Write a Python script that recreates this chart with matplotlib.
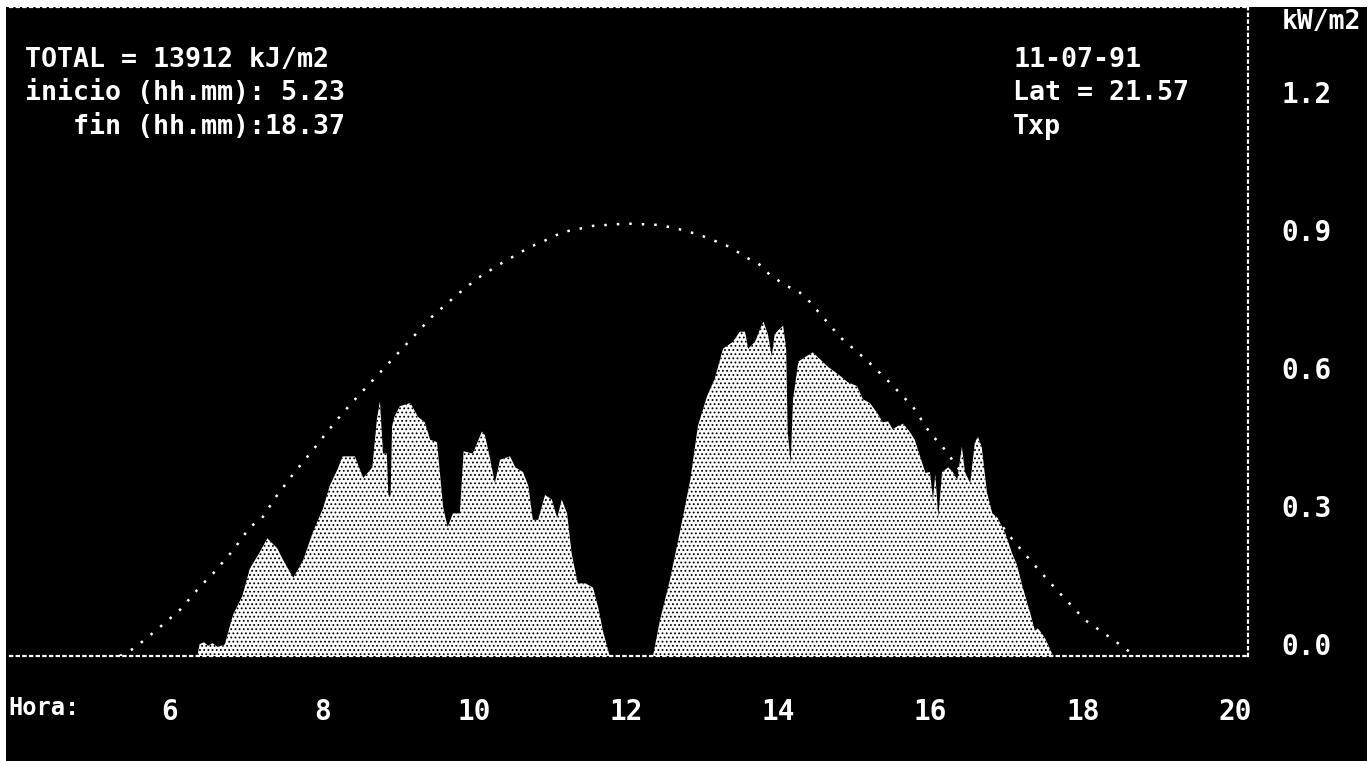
import matplotlib
matplotlib.use("Agg")
import matplotlib.pyplot as plt
from matplotlib.patches import Rectangle
from matplotlib.transforms import ScaledTranslation

# ---------------- data ----------------
hora = [
    6.36, 6.39, 6.45, 6.50, 6.56, 6.62, 6.67, 6.72, 6.83, 6.95, 7.05, 7.16, 7.28, 7.41, 7.49,
    7.62, 7.75, 7.88, 8.01, 8.10, 8.20, 8.27, 8.43, 8.54, 8.66, 8.72, 8.76, 8.80, 8.85, 8.87,
    8.90, 8.92, 8.95, 9.02, 9.16, 9.26, 9.35, 9.42, 9.51, 9.59, 9.65, 9.72, 9.81, 9.86, 9.98,
    10.10, 10.14, 10.21, 10.27, 10.34, 10.47, 10.54, 10.64, 10.71, 10.77, 10.84, 10.93, 11.02,
    11.09, 11.15, 11.22, 11.28, 11.36, 11.46, 11.56, 11.63, 11.69, 11.78,
    12.35, 12.44, 12.57, 12.70, 12.84, 12.94, 13.06, 13.16, 13.27, 13.40, 13.49, 13.56, 13.60,
    13.69, 13.76, 13.80, 13.86, 13.91, 13.95, 14.02, 14.06, 14.10, 14.12, 14.16, 14.19, 14.26,
    14.37, 14.45, 14.54, 14.64, 14.72, 14.81, 14.91, 15.03, 15.11, 15.20, 15.29, 15.37, 15.44,
    15.50, 15.57, 15.64, 15.73, 15.79, 15.86, 15.93, 15.99, 16.03, 16.06, 16.10, 16.15, 16.23,
    16.29, 16.35, 16.41, 16.45, 16.52, 16.58, 16.62, 16.67, 16.74, 16.81, 16.88, 16.98, 17.07,
    17.13, 17.21, 17.31, 17.37, 17.41, 17.50, 17.61,
]
irradiancia = [
    0.0, 0.026, 0.030, 0.022, 0.028, 0.020, 0.022, 0.025, 0.090, 0.130, 0.190, 0.220, 0.256, 0.234, 0.208,
    0.170, 0.208, 0.270, 0.320, 0.370, 0.405, 0.434, 0.434, 0.387, 0.410, 0.515, 0.554, 0.440, 0.440, 0.350,
    0.350, 0.500, 0.520, 0.543, 0.550, 0.520, 0.508, 0.470, 0.465, 0.324, 0.280, 0.310, 0.310, 0.445, 0.440,
    0.488, 0.480, 0.427, 0.376, 0.427, 0.434, 0.410, 0.400, 0.370, 0.296, 0.296, 0.350, 0.340,
    0.300, 0.340, 0.310, 0.223, 0.158, 0.158, 0.149, 0.105, 0.055, 0.0,
    0.0, 0.077, 0.164, 0.267, 0.383, 0.500, 0.565, 0.602, 0.668, 0.683, 0.705, 0.705, 0.668,
    0.683, 0.712, 0.727, 0.700, 0.652, 0.700, 0.712, 0.718, 0.668, 0.486, 0.420, 0.558, 0.640,
    0.652, 0.660, 0.646, 0.630, 0.620, 0.609, 0.595, 0.587, 0.558, 0.550, 0.530, 0.508, 0.510,
    0.493, 0.500, 0.505, 0.486, 0.470, 0.434, 0.398, 0.400, 0.340, 0.395, 0.302, 0.400, 0.410,
    0.400, 0.383, 0.455, 0.400, 0.376, 0.464, 0.477, 0.455, 0.355, 0.310, 0.300, 0.267, 0.223,
    0.200, 0.149, 0.092, 0.055, 0.060, 0.040, 0.0,
]

# clear-sky (theoretical) curve
hora_teo = [5.34, 5.53, 5.79, 6.13, 6.39, 6.57, 6.83, 7.05, 7.21, 7.41, 7.64, 7.88, 8.08, 8.27,
            8.46, 8.63, 9.44, 9.77, 10.05, 10.36, 10.73, 10.89, 11.17, 11.30, 11.56, 12.00,
            12.44, 12.74, 12.97, 13.20, 13.36, 13.59, 13.73, 13.89, 14.11, 14.26, 14.41, 14.81,
            15.16, 15.47, 15.77, 15.99, 16.16, 16.58, 17.08, 17.34, 17.66, 18.03, 18.42, 18.55, 18.69]
irr_teo = [0.0, 0.017, 0.052, 0.10, 0.15, 0.18, 0.23, 0.28, 0.30, 0.35, 0.40, 0.448, 0.49, 0.528,
           0.563, 0.593, 0.737, 0.785, 0.822, 0.854, 0.889, 0.90, 0.922, 0.926, 0.935, 0.94,
           0.937, 0.926, 0.915, 0.90, 0.889, 0.865, 0.854, 0.828, 0.804, 0.793, 0.77, 0.693,
           0.643, 0.593, 0.541, 0.485, 0.454, 0.36, 0.252, 0.202, 0.143, 0.078, 0.033, 0.017, 0.0]

xticks = [6, 8, 10, 12, 14, 16, 18, 20]
yticks = [0.0, 0.3, 0.6, 0.9, 1.2]
ytick_labels = ["0.0", "0.3", "0.6", "0.9", "1.2"]

texto_izq = ["TOTAL = 13912 kJ/m2", "inicio (hh.mm): 5.23", "   fin (hh.mm):18.37"]
texto_der = ["11-07-91", "Lat = 21.57", "Txp"]
unidad = "kW/m2"
etiqueta_x = "Hora:"

# ---------------- figure ----------------
W, H, DPI = 1372, 761, 100
FONT = dict(family="DejaVu Sans Mono", weight="bold", color="white")
FS = 20
FS_TXT = 19.2

fig = plt.figure(figsize=(W / DPI, H / DPI), dpi=DPI, facecolor="white")
fig.patches.append(Rectangle((6 / W, 0), (1367 - 6) / W, (H - 7) / H,
                             transform=fig.transFigure, facecolor="black",
                             edgecolor="none", zorder=-10))

left_px, right_px, top_px, base_px = 10, 1248, 7, 656
ax = fig.add_axes([left_px / W, (H - base_px) / H,
                   (right_px - left_px) / W, (base_px - top_px) / H])
ax.set_facecolor("black")
ax.set_zorder(1)

px_per_h = 76.07
x0 = 6 + (left_px - 170) / px_per_h
x1 = 6 + (right_px - 170) / px_per_h
ax.set_xlim(x0, x1)
ax.set_ylim(0, (base_px - top_px) / 460.0)

# theoretical curve (dotted), below the measured fill
ax.plot(hora_teo, irr_teo, color="white", lw=1.8, linestyle=(0, (1, 4)),
        zorder=2, dash_capstyle="butt")

# measured irradiance: white with black dot pattern
plt.rcParams["hatch.linewidth"] = 0.8
ax.fill_between(hora, irradiancia, 0, facecolor="white", edgecolor="black",
                hatch="....", linewidth=0, zorder=3)

# spines
for s in ["bottom", "right", "top"]:
    ax.spines[s].set_color("white")
    ax.spines[s].set_linestyle((0, (1, 2)))
    ax.spines[s].set_linewidth(1.6)
ax.spines["left"].set_visible(False)

# ticks
ax.set_xticks(xticks)
ax.set_xticklabels([str(t) for t in xticks], fontsize=FS, **FONT)
ax.tick_params(axis="x", length=0, pad=30)
ax.yaxis.tick_right()
ax.set_yticks(yticks)
ax.set_yticklabels(ytick_labels, fontsize=FS, **FONT)
ax.tick_params(axis="y", length=0, pad=24)
off = ScaledTranslation(0, 12 / DPI, fig.dpi_scale_trans)
for lab in ax.get_yticklabels():
    lab.set_transform(lab.get_transform() + off)

def fx(px):
    return px / W

def fy(py):
    return 1 - py / H

for i, t in enumerate(texto_izq):
    fig.text(fx(25), fy(60 + i * 33.5), t, fontsize=FS_TXT, va="center", ha="left", **FONT)
for i, t in enumerate(texto_der):
    fig.text(fx(1013), fy(60 + i * 33.5), t, fontsize=FS_TXT, va="center", ha="left", **FONT)
fig.text(fx(1321), fy(22), unidad, fontsize=FS - 1, va="center", ha="center", **FONT)
fig.text(fx(8), fy(708), etiqueta_x, fontsize=FS - 3, va="center", ha="left", **FONT)

fig.savefig("out.png", dpi=DPI, facecolor=fig.get_facecolor())
